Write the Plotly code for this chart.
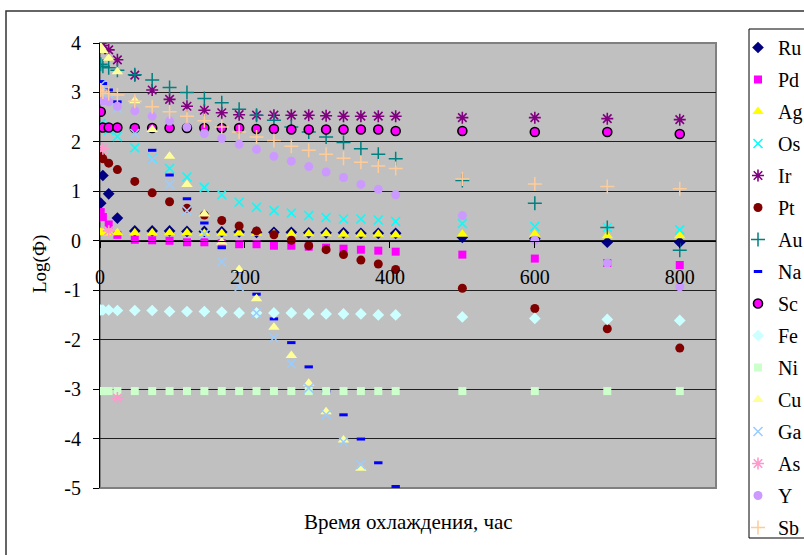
import plotly.graph_objects as go

# Cooling time, hours
hours = [1, 4, 12, 24, 48, 72, 96, 120, 144, 168, 192, 216, 240, 264, 288, 312,
         336, 360, 384, 408, 500, 600, 700, 800]

# Log of activity for each nuclide (None = no point)
ru = [0.76, 1.32, 0.95, 0.46, 0.20, 0.20, 0.20, 0.19, 0.19, 0.18, 0.18, 0.17,
      0.17, 0.17, 0.16, 0.16, 0.16, 0.15, 0.15, 0.15, 0.07, 0.04, -0.03, -0.03]
pd_ = [0.58, 0.48, 0.33, 0.12, 0.02, 0.01, 0.00, -0.03, -0.03, -0.05, -0.07, -0.07,
       -0.10, -0.10, -0.12, -0.14, -0.16, -0.18, -0.20, -0.22, -0.28, -0.36, -0.45, -0.49]
ag = [0.17, 0.16, 0.16, 0.16, 0.16, 0.16, 0.16, 0.16, 0.15, 0.15, 0.15, 0.15,
      0.14, 0.14, 0.14, 0.14, 0.13, 0.13, 0.13, 0.12, 0.13, 0.13, 0.10, 0.10]
os_ = [2.37, 2.30, 2.24, 2.11, 1.88, 1.66, 1.46, 1.29, 1.08, 0.93, 0.78, 0.68,
       0.61, 0.56, 0.51, 0.47, 0.44, 0.44, 0.42, 0.39, 0.35, 0.29, 0.27, 0.22]
ir = [4.00, 3.95, 3.86, 3.66, 3.35, 3.05, 2.86, 2.72, 2.64, 2.59, 2.55, 2.54,
      2.54, 2.54, 2.54, 2.53, 2.52, 2.52, 2.52, 2.52, 2.49, 2.49, 2.47, 2.45]
pt = [1.71, 1.66, 1.57, 1.44, 1.20, 0.97, 0.79, 0.66, 0.52, 0.41, 0.30, 0.20,
      0.12, 0.01, -0.10, -0.18, -0.28, -0.39, -0.47, -0.58, -0.96, -1.37, -1.78, -2.17]
au = [3.57, 3.53, 3.50, 3.45, 3.36, 3.25, 3.10, 3.00, 2.88, 2.79, 2.66, 2.54,
      2.44, 2.30, 2.20, 2.10, 1.99, 1.86, 1.75, 1.66, 1.22, 0.76, 0.27, -0.19]
na = [3.22, 3.18, 3.05, 2.81, 2.32, 1.83, 1.33, 0.85, 0.36, -0.14, -0.61, -1.08,
      -1.58, -2.06, -2.55, -3.04, -3.52, -4.01, -4.49, -4.97, None, None, None, None]
sc = [2.61, 2.29, 2.29, 2.29, 2.28, 2.28, 2.28, 2.28, 2.28, 2.28, 2.28, 2.26,
      2.26, 2.25, 2.25, 2.25, 2.25, 2.25, 2.25, 2.22, 2.22, 2.20, 2.20, 2.16]
fe = [-1.40, -1.40, -1.40, -1.41, -1.41, -1.41, -1.43, -1.43, -1.43, -1.44, -1.46, -1.46,
      -1.46, -1.46, -1.48, -1.48, -1.48, -1.48, -1.50, -1.50, -1.54, -1.57, -1.59, -1.61]
ni = [-3.04, -3.04, -3.04, -3.04, -3.04, -3.04, -3.04, -3.04, -3.04, -3.04, -3.04, -3.04,
      -3.04, -3.04, -3.04, -3.04, -3.04, -3.04, -3.04, -3.04, -3.04, -3.04, -3.04, -3.04]
cu = [3.92, 3.85, 3.69, 3.42, 2.83, 2.25, 1.71, 1.14, 0.54, -0.03, -0.58, -1.17,
      -1.75, -2.32, -2.88, -3.46, -4.03, -4.60, None, None, None, None, None, None]
ga = [3.15, 2.95, 2.85, 2.68, 2.17, 1.65, 1.14, 0.61, 0.14, -0.43, -0.93, -1.46,
      -1.96, -2.49, -2.98, -3.52, -4.07, -4.53, None, None, None, None, None, None]
as_ = [None, 1.86, 0.20, -3.18, None, None, None, None, None, None, None, None,
       None, None, None, None, None, None, None, None, None, None, None, None]
y_ = [2.85, 2.83, 2.81, 2.72, 2.63, 2.52, 2.42, 2.30, 2.17, 2.07, 1.95, 1.85,
      1.71, 1.61, 1.50, 1.39, 1.28, 1.14, 1.04, 0.93, 0.51, 0.01, -0.45, -0.93]
sb = [3.05, 3.01, 2.98, 2.95, 2.82, 2.71, 2.61, 2.52, 2.43, 2.30, 2.20, 2.10,
      2.03, 1.91, 1.83, 1.75, 1.67, 1.59, 1.51, 1.46, 1.25, 1.15, 1.10, 1.05]

x_ticks = [0, 200, 400, 600, 800]
y_ticks = [-5, -4, -3, -2, -1, 0, 1, 2, 3, 4]

FONT = "Liberation Serif, Times New Roman, serif"

# name, values, symbol, fill colour, size, outline colour, outline width
series = [
    ("Ru", ru, "diamond", "#000080", 9, None, 0),
    ("Pd", pd_, "square", "#FF00FF", 8, None, 0),
    ("Ag", ag, "triangle-up", "#FFFF00", 10, None, 0),
    ("Os", os_, "x-thin", "#00FFFF", 9, "#00FFFF", 1.5),
    ("Ir", ir, "asterisk", "#800080", 10, "#800080", 1.6),
    ("Pt", pt, "circle", "#800000", 9, None, 0),
    ("Au", au, "cross-thin", "#008080", 10, "#008080", 1.5),
    ("Na", na, "line-ew", "#0000FF", 6, "#0000FF", 3),
    ("Sc", sc, "circle", "#FF00FF", 9, "#000000", 1.6),
    ("Fe", fe, "diamond", "#CCFFFF", 9, None, 0),
    ("Ni", ni, "square", "#CCFFCC", 8, None, 0),
    ("Cu", cu, "triangle-up", "#FFFF99", 10, None, 0),
    ("Ga", ga, "x-thin", "#99CCFF", 9, "#99CCFF", 1.5),
    ("As", as_, "asterisk", "#FF99CC", 10, "#FF99CC", 1.6),
    ("Y", y_, "circle", "#CC99FF", 9, None, 0),
    ("Sb", sb, "cross-thin", "#FFCC99", 10, "#FFCC99", 1.5),
]

fig = go.Figure()
for name, vals, sym, col, size, lcol, lw in series:
    fig.add_trace(go.Scatter(
        x=hours, y=vals, mode="markers", name=name, legendgroup=name,
        marker=dict(symbol=sym, color=col, size=size,
                    line=dict(color=lcol if lcol else col, width=lw)),
    ))

L, R, T, B = 100, 88, 43, 67
W, H = 804, 555
pw, ph = W - L - R, H - T - B


def px_x(p):
    return (p - L) / pw


def px_y(p):
    return (H - B - p) / ph


fig.update_layout(
    width=W, height=H,
    margin=dict(l=L, r=R, t=T, b=B, pad=0, autoexpand=False),
    paper_bgcolor="white",
    plot_bgcolor="#C0C0C0",
    font=dict(family=FONT, size=20, color="black"),
    showlegend=True,
    legend=dict(
        x=px_x(738), y=px_y(28), xanchor="left", yanchor="top",
        bgcolor="rgba(0,0,0,0)", borderwidth=0,
        font=dict(family=FONT, size=20, color="black"),
        traceorder="grouped", tracegroupgap=3, itemwidth=30,
        maxheight=700,
    ),
    xaxis=dict(
        range=[0, 850], tickvals=x_ticks, showgrid=False, zeroline=False,
        showline=True, linecolor="black", linewidth=1,
        ticks="outside", ticklen=6, tickcolor="black", tickwidth=1,
        anchor="free", position=5 / 9, ticklabelstandoff=12,
        tickfont=dict(family=FONT, size=20),
    ),
    yaxis=dict(
        range=[-5, 4], tickvals=y_ticks, ticktext=[str(v) for v in y_ticks],
        showgrid=True, gridcolor="#202020", gridwidth=1, zeroline=False,
        showline=True, linecolor="black", linewidth=1,
        ticks="outside", ticklen=6, tickcolor="black", tickwidth=1,
        ticklabelstandoff=8, tickfont=dict(family=FONT, size=20),
    ),
    shapes=[
        # plot area frame
        dict(type="rect", xref="paper", yref="paper", x0=0, x1=1, y0=0, y1=1,
             line=dict(color="#808080", width=2), layer="below"),
        # outer chart frame
        dict(type="rect", xref="paper", yref="paper",
             x0=px_x(6), x1=px_x(812), y0=px_y(562), y1=px_y(11),
             line=dict(color="#333333", width=1.5), fillcolor="rgba(0,0,0,0)"),
        # legend frame
        dict(type="rect", xref="paper", yref="paper",
             x0=px_x(749), x1=px_x(812), y0=px_y(538), y1=px_y(29),
             line=dict(color="black", width=1), fillcolor="white", layer="below"),
    ],
    annotations=[
        dict(text="Время охлаждения, час", xref="paper", yref="paper",
             x=px_x(408), y=px_y(522), xanchor="center", yanchor="middle",
             showarrow=False, font=dict(family=FONT, size=21)),
        dict(text="Log(Ф)", xref="paper", yref="paper",
             x=px_x(40), y=px_y(264), xanchor="center", yanchor="middle",
             showarrow=False, textangle=-90, font=dict(family=FONT, size=19)),
        dict(text="<b>Спектр примесей радионуклидов в продукте при охлаждении препарата</b>",
             xref="paper", yref="paper", x=px_x(110), y=px_y(1),
             xanchor="left", yanchor="bottom", showarrow=False,
             font=dict(family=FONT, size=22)),
    ],
)

fig.write_html("out.html")
